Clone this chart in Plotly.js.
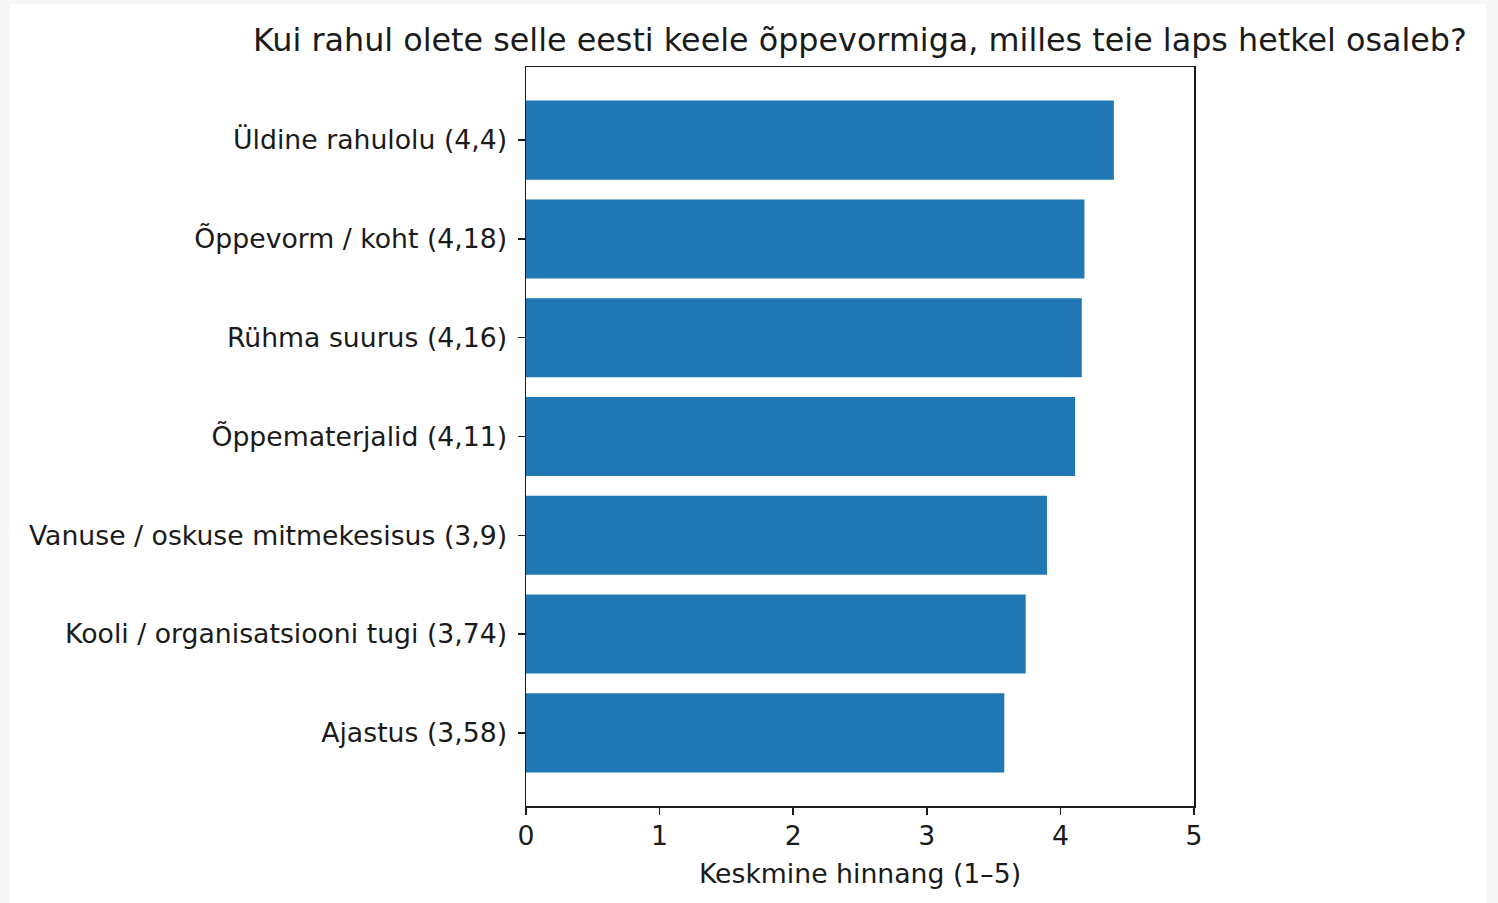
<!DOCTYPE html>
<html>
<head>
<meta charset="utf-8">
<script src="https://cdn.plot.ly/plotly-3.0.1.min.js"></script>
<style>
html, body { margin: 0; padding: 0; background: #f7f7f7; width: 1498px; height: 903px; overflow: hidden; }
#chart { position: absolute; left: 10px; top: 4px; width: 1476px; height: 899px; background: #ffffff; }
</style>
</head>
<body>
<div id="chart"></div>
<script>
const categories = [
  "Üldine rahulolu (4,4)",
  "Õppevorm / koht (4,18)",
  "Rühma suurus (4,16)",
  "Õppematerjalid (4,11)",
  "Vanuse / oskuse mitmekesisus (3,9)",
  "Kooli / organisatsiooni tugi (3,74)",
  "Ajastus (3,58)"
];
const values = [4.4, 4.18, 4.16, 4.11, 3.9, 3.74, 3.58];
const xTicks = [0, 1, 2, 3, 4, 5];
const titleText = "Kui rahul olete selle eesti keele õppevormiga, milles teie laps hetkel osaleb?";
const xTitleText = "Keskmine hinnang (1–5)";

const font = "DejaVu Sans, sans-serif";
const ink = "#1a1a1a";
const fs = 26.7;

const trace = {
  type: "bar",
  orientation: "h",
  x: values,
  y: categories.map((c, i) => i),
  width: 0.8,
  marker: { color: "#1f77b4", line: { width: 0 } },
  hoverinfo: "x+text",
  text: categories,
  textposition: "none"
};

const layout = {
  width: 1476,
  height: 899,
  paper_bgcolor: "#ffffff",
  plot_bgcolor: "#ffffff",
  margin: { l: 516, r: 292, t: 63, b: 97, pad: 0 },
  showlegend: false,
  font: { family: font, color: ink, size: fs },
  title: {
    text: titleText,
    font: { family: font, size: 31.8, color: ink },
    xref: "paper", x: 0.5, xanchor: "center",
    yref: "paper", y: 1, yanchor: "bottom",
    pad: { b: 16 }
  },
  xaxis: {
    range: [0, 5],
    tickvals: xTicks,
    ticktext: xTicks.map(String),
    ticks: "outside", ticklen: 7, tickwidth: 1.5, tickcolor: ink,
    ticklabelstandoff: -2,
    showline: true, linecolor: ink, linewidth: 1.5, mirror: true,
    showgrid: false, zeroline: false,
    tickfont: { family: font, size: fs, color: ink },
    title: { text: xTitleText, font: { family: font, size: fs, color: ink }, standoff: 15 },
    fixedrange: true
  },
  yaxis: {
    range: [6.74, -0.74],
    tickvals: categories.map((c, i) => i),
    ticktext: categories,
    ticks: "outside", ticklen: 7, tickwidth: 1.5, tickcolor: ink,
    ticklabelstandoff: 5,
    showline: true, linecolor: ink, linewidth: 1.5, mirror: true,
    showgrid: false, zeroline: false,
    tickfont: { family: font, size: fs, color: ink },
    fixedrange: true
  }
};

Plotly.newPlot("chart", [trace], layout, { displayModeBar: false, staticPlot: true });
</script>
</body>
</html>
